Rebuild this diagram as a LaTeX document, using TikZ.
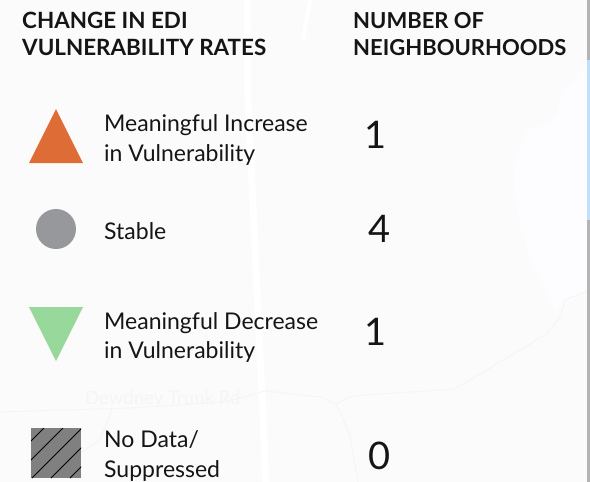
\documentclass[tikz,border=0pt]{standalone}
\usepackage{fontspec}
\setmainfont{Lato}
\definecolor{bgc}{HTML}{FBFBFB}
\definecolor{roadc}{HTML}{F5F5F5}
\definecolor{waterc}{HTML}{FDFDFF}
\definecolor{orangec}{HTML}{DE6C36}
\definecolor{greyc}{HTML}{97989B}
\definecolor{greenc}{HTML}{98D89B}
\definecolor{hatchc}{HTML}{808080}
\definecolor{stripc}{HTML}{B4B4B4}
\definecolor{bluec}{HTML}{BFE0FA}
\definecolor{inkc}{HTML}{151515}
\tikzset{
 x=1pt,y=-1pt,
 head/.style={anchor=base west,align=left,font=\fontsize{22.4}{27.5}\selectfont\bfseries,text=inkc,inner sep=0pt},
 headb/.style={head,font=\fontsize{22}{27.5}\selectfont\bfseries},
 lab/.style={anchor=west,align=left,font=\fontsize{23}{29.5}\selectfont,text=inkc,inner sep=0pt},
 num/.style={anchor=center,font=\fontsize{38}{38}\selectfont,text=inkc,inner sep=0pt},
 road/.style={draw=roadc,line width=1pt},
 wide/.style={draw=white,line width=7pt}
}
\begin{document}
\begin{tikzpicture}
\useasboundingbox (0,0) rectangle (590,482);
\fill[bgc] (0,0) rectangle (590,482);
% water
\fill[waterc] (590,60) .. controls (570,85) and (560,90) .. (557,110) .. controls (552,128) and (530,122) .. (525,135) .. controls (515,155) and (510,175) .. (517,205) .. controls (520,240) and (535,270) .. (555,310) -- (590,290) -- cycle;
% map faint roads
\draw[wide] (247,0) -- (248,100) -- (257,290) -- (266,482);
\draw[wide,line width=4pt] (310,0) -- (303,40);
\draw[road] (0,412) -- (130,408) -- (225,402) -- (265,391) -- (320,397) -- (336,404) -- (352,396) -- (455,389) -- (545,335) -- (560,318) -- (565,300) -- (590,290);
\draw[road] (336,404) -- (350,435) -- (358,482);
\draw[road] (112,409) -- (100,440) -- (70,460);
\node[anchor=base west,font=\fontsize{18.6}{18.6}\selectfont,text=black!4,inner sep=0pt] (rd) at (85,404) {Dewdney Trunk Rd};
% side strip
\fill[stripc] (587,0) rectangle (590,482);
\fill[bluec] (587,60) rectangle (590,220);
% heads
\node[head] (h1) at (22,55.5) {CHANGE IN EDI\\VULNERABILITY RATES};
\node[headb] (h2) at (353,55.5) {NUMBER OF\\NEIGHBOURHOODS};
% symbols
\fill[orangec] (29,163) -- (56,109) -- (83,163) -- cycle;
\fill[greyc] (56,229) circle (20);
\fill[greenc] (29,307) -- (83,307) -- (56,361) -- cycle;
\node[fill=hatchc,minimum size=50pt,inner sep=0pt] (nd) at (56,453) {};
\begin{scope}
\clip (31,428) rectangle (81,478);
\foreach \c in {472,491,510,529,548}{\draw[black,line width=.8pt] (\c-428,428) -- (\c-478,478);}
\end{scope}
% labels
\node[lab] (l1) at (104,140) {Meaningful Increase\\in Vulnerability};
\node[lab] (l2) at (104,231) {Stable};
\node[lab] (l3) at (104,337.5) {Meaningful Decrease\\in Vulnerability};
\node[lab] (l4) at (104,456) {No Data/\\Suppressed};
% numbers
\node[num] (n1) at (376,135) {1};
\node[num] (n2) at (380,229) {4};
\node[num] (n3) at (376,332) {1};
\node[num] (n4) at (380,456) {0};
\end{tikzpicture}
\end{document}
